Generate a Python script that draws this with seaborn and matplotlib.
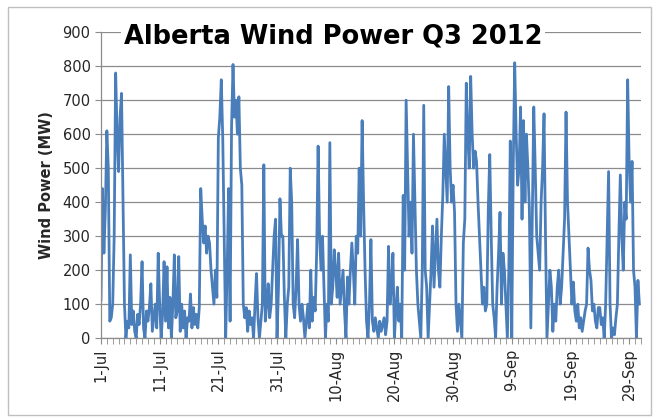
import numpy as np
import pandas as pd
import matplotlib
matplotlib.use("Agg")
import matplotlib.pyplot as plt
import matplotlib.dates as mdates
from matplotlib.patches import Rectangle
import seaborn as sns

# 6-hourly wind power (MW): 00h, 06h, 12h, 18h for each day
july = [
    110, 440, 250, 380,  610, 500, 50, 60,  100, 300, 780, 600,  490, 650, 720, 400,
    100, 0, 50, 30,  245, 40, 80, 20,  0, 70, 40, 100,  225, 30, 0, 80,
    50, 90, 160, 20,  60, 100, 30, 250,  100, 0, 70, 225,  50, 210, 30, 120,
    0, 100, 245, 60,  80, 240, 20, 100,  30, 80, 0, 60,  50, 130, 30, 90,
    40, 70, 30, 90,  440, 350, 280, 330,  250, 300, 280, 200,  150, 100, 200, 120,
    590, 650, 760, 590,  300, 0, 200, 440,  50, 620, 805, 650,  700, 600, 710, 500,
    450, 100, 60, 90,  20, 80, 40, 60,  0, 100, 190, 60,  0, 50, 100, 510,
    50, 100, 160, 60,  100, 200, 300, 350,  0, 150, 410, 300,
]
august = [
    300, 120, 0, 100,  150, 500, 400, 100,  60, 150, 290, 100,  50, 100, 60, 0,
    50, 100, 30, 200,  50, 120, 80, 250,  565, 300, 200, 300,  150, 0, 100, 50,
    575, 100, 150, 260,  200, 120, 250, 100,  150, 200, 80, 0,  180, 100, 200, 280,
    200, 100, 300, 250,  500, 300, 640, 400,  200, 50, 0, 100,  290, 50, 20, 60,
    30, 0, 50, 20,  40, 60, 10, 50,  270, 100, 150, 250,  0, 80, 150, 50,
    100, 0, 420, 200,  700, 500, 300, 400,  250, 600, 400, 200,  100, 50, 0, 200,
    685, 200, 150, 0,  100, 200, 330, 150,  250, 350, 200, 150,  300, 420, 600, 500,
    400, 740, 500, 400,  450, 370, 100, 20,  100, 50, 0, 280,
]
september = [
    350, 750, 600, 500,  770, 600, 500, 550,  520, 400, 300, 200,  100, 150, 80, 100,
    380, 540, 300, 100,  60, 0, 150, 250,  370, 100, 250, 200,  100, 0, 200, 580,
    0, 500, 810, 600,  450, 500, 680, 350,  640, 400, 600, 500,  380, 30, 350, 680,
    500, 300, 250, 200,  400, 500, 660, 300,  0, 100, 200, 150,  20, 100, 50, 150,
    200, 100, 150, 250,  350, 665, 400, 300,  200, 100, 165, 80,  50, 100, 30, 60,
    20, 50, 80, 100,  265, 200, 170, 80,  100, 50, 30, 90,  90, 40, 60, 0,
    100, 300, 490, 100,  0, 30, 10, 60,  100, 300, 480, 300,  200, 400, 350, 760,
    520, 400, 520, 200,  150, 0, 170, 100,
]
tick_dates = ["2012-07-01", "2012-07-11", "2012-07-21", "2012-07-31", "2012-08-10",
              "2012-08-20", "2012-08-30", "2012-09-09", "2012-09-19", "2012-09-29"]
tick_labels = ["1-Jul", "11-Jul", "21-Jul", "31-Jul", "10-Aug",
               "20-Aug", "30-Aug", "9-Sep", "19-Sep", "29-Sep"]

power = july + august + september
df = pd.DataFrame({
    "time": pd.date_range("2012-07-01", periods=len(power), freq="6h"),
    "power": power,
})

sns.set_style("white")
plt.rcParams["font.family"] = ["DejaVu Sans"]

fig = plt.figure(figsize=(6.6, 4.18), dpi=100)
ax = fig.add_axes([0.153, 0.191, 0.818, 0.732])

sns.lineplot(data=df, x="time", y="power", ax=ax, color="#4a7ebb", linewidth=2.0)

ax.set_ylim(0, 900)
ax.set_xlim(pd.Timestamp("2012-07-01"), pd.Timestamp("2012-10-01"))
ax.set_yticks(range(0, 1000, 100))
ax.yaxis.grid(True, color="#8c8c8c", linewidth=0.9)
ax.set_axisbelow(True)

ax.xaxis.set_major_locator(matplotlib.ticker.FixedLocator(mdates.date2num(pd.to_datetime(tick_dates))))
ax.set_xticklabels(tick_labels, rotation=90)
ax.xaxis.set_minor_locator(mdates.DayLocator())
ax.tick_params(axis="x", which="both", direction="out", length=4, color="#8c8c8c", bottom=True)
ax.tick_params(axis="y", direction="out", length=4, color="#8c8c8c", left=True)
ax.tick_params(labelsize=10.5, labelcolor="#262626")

for s in ["top", "right"]:
    ax.spines[s].set_visible(False)
for s in ["left", "bottom"]:
    ax.spines[s].set_color("#8c8c8c")
    ax.spines[s].set_linewidth(0.9)

ax.set_xlabel("")
ax.set_ylabel("Wind Power (MW)", fontsize=10.5, fontweight="bold", labelpad=6)

ax.text(0.43, 0.985, "Alberta Wind Power Q3 2012", transform=ax.transAxes,
        ha="center", va="center", fontsize=18.5, fontweight="bold", color="black",
        bbox=dict(facecolor="white", edgecolor="none", pad=2))

fig.patches.append(Rectangle((0.0115, 0.007), 0.975, 0.976, transform=fig.transFigure,
                             fill=False, edgecolor="#bfbfbf", linewidth=1))

fig.savefig("out.png", dpi=100)
